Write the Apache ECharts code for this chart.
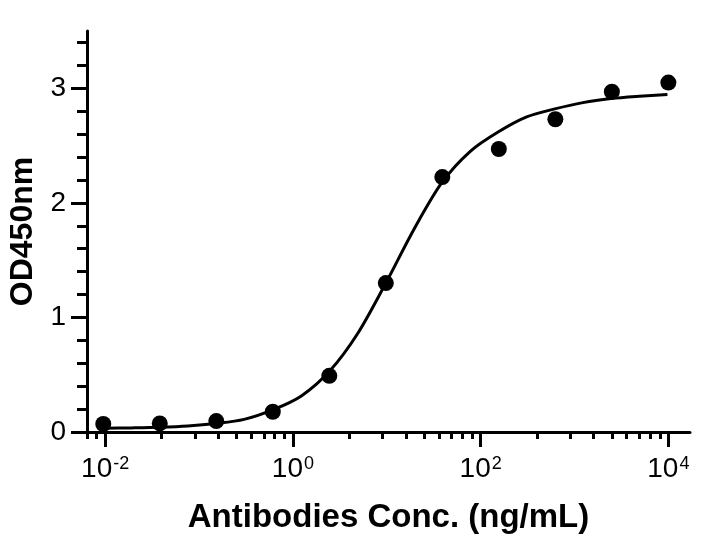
<!DOCTYPE html>
<html><head><meta charset="utf-8">
<script src="https://cdn.jsdelivr.net/npm/echarts@6/dist/echarts.min.js"></script>
<style>html,body{margin:0;padding:0;background:#fff}#c{width:710px;height:545px}</style>
</head><body><div id="c"></div>
<script>
// Measured data points (concentration in ng/mL, OD450)
const pointConc = [0.009537, 0.03815, 0.1526, 0.6104, 2.441, 9.766, 39.06, 156.25, 625, 2500, 10000];
const pointOD   = [0.07, 0.075, 0.095, 0.177, 0.49, 1.30, 2.225, 2.47, 2.73, 2.97, 3.05];
// Fitted curve
const curveConc = [0.00955, 0.0191, 0.0380, 0.0759, 0.151, 0.302, 0.617, 1.23, 2.45, 4.90, 9.77, 19.5, 38.9, 77.6, 155, 309, 617, 1230, 2455, 4898, 9772];
const curveOD   = [0.033, 0.036, 0.041, 0.052, 0.074, 0.110, 0.195, 0.315, 0.53, 0.86, 1.30, 1.77, 2.18, 2.45, 2.62, 2.75, 2.82, 2.875, 2.91, 2.93, 2.945];
// Axis ticks
const xMajorTicks = [0.01, 1, 100, 10000];
const xMinorTicks = [0.0064, 0.0081, 0.04, 0.09, 0.16, 0.25, 0.36, 0.49, 0.64, 0.81, 4, 9, 16, 25, 36, 49, 64, 81, 400, 900, 1600, 2500, 3600, 4900, 6400, 8100];
const yMajorTicks = [0, 1, 2, 3];
const yMinorTicks = [0.2, 0.4, 0.6, 0.8, 1.2, 1.4, 1.6, 1.8, 2.2, 2.4, 2.6, 2.8, 3.2, 3.4];
const xTitle = 'Antibodies Conc. (ng/mL)';
const yTitle = 'OD450nm';

const FONT = 'Liberation Sans, Arial, Helvetica, sans-serif';
const X_MIN = 0.0064, X_MAX = 17000, Y_MIN = 0, Y_MAX = 3.5;

const chart = echarts.init(document.getElementById('c'), null, {renderer: 'canvas'});
const pts = pointConc.map((c, i) => [c, pointOD[i]]);
const crv = curveConc.map((c, i) => [c, curveOD[i]]);

chart.setOption({
  animation: false,
  backgroundColor: '#fff',
  grid: {left: 87, right: 20, top: 31, bottom: 113, containLabel: false, outerBoundsMode: 'none'},
  xAxis: [
    {
      type: 'log', logBase: 10, min: X_MIN, max: X_MAX,
      name: xTitle, nameLocation: 'middle', nameGap: 69,
      nameTextStyle: {fontFamily: FONT, fontSize: 33, fontWeight: 'bold', color: '#000'},
      axisLine: {show: true, lineStyle: {color: '#000', width: 3}},
      axisTick: {show: true, inside: false, length: 15, customValues: xMajorTicks, lineStyle: {color: '#000', width: 3}},
      axisLabel: {
        show: true, customValues: xMajorTicks, margin: 23, color: '#000',
        fontFamily: FONT, fontSize: 28,
        formatter: v => '{b|10}{s|' + Math.round(Math.log10(v)) + '}',
        rich: {
          b: {fontFamily: FONT, fontSize: 28, color: '#000', verticalAlign: 'top'},
          s: {fontFamily: FONT, fontSize: 18, color: '#000', verticalAlign: 'top', padding: [0, 0, 0, 1]}
        }
      },
      splitLine: {show: false}
    },
    {
      type: 'log', logBase: 10, min: X_MIN, max: X_MAX, position: 'bottom',
      axisLine: {show: false},
      axisTick: {show: true, inside: false, length: 7, customValues: xMinorTicks, lineStyle: {color: '#000', width: 3}},
      axisLabel: {show: false},
      splitLine: {show: false}
    }
  ],
  yAxis: [
    {
      type: 'value', min: Y_MIN, max: Y_MAX,
      name: yTitle, nameLocation: 'middle', nameGap: 47, nameRotate: 90,
      nameTextStyle: {fontFamily: FONT, fontSize: 32, fontWeight: 'bold', color: '#000'},
      axisLine: {show: true, lineStyle: {color: '#000', width: 3}},
      axisTick: {show: true, inside: false, length: 16, customValues: yMajorTicks, lineStyle: {color: '#000', width: 3}},
      axisLabel: {show: true, customValues: yMajorTicks, margin: 21, color: '#000', fontFamily: FONT, fontSize: 28},
      splitLine: {show: false}
    },
    {
      type: 'value', min: Y_MIN, max: Y_MAX, position: 'left',
      axisLine: {show: false},
      axisTick: {show: true, inside: false, length: 10, customValues: yMinorTicks, lineStyle: {color: '#000', width: 3}},
      axisLabel: {show: false},
      splitLine: {show: false}
    }
  ],
  series: [
    {
      type: 'line', xAxisIndex: 0, yAxisIndex: 0, data: crv, smooth: 0.3,
      showSymbol: false, symbol: 'none',
      lineStyle: {color: '#000', width: 3}, z: 2
    },
    {
      type: 'scatter', xAxisIndex: 0, yAxisIndex: 0, data: pts,
      symbol: 'circle', symbolSize: 16,
      itemStyle: {color: '#000', opacity: 1}, z: 3
    }
  ]
});
</script>
</body></html>
